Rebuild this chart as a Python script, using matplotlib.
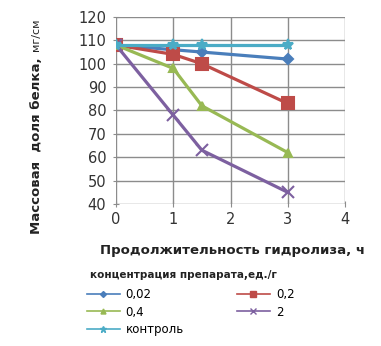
import matplotlib
matplotlib.use("Agg")
import matplotlib.pyplot as plt
from matplotlib.lines import Line2D

plt.rcParams['font.family'] = ['DejaVu Sans']

hours = [0, 1, 1.5, 3]
s_002 = [108, 106, 105, 102]
s_02 = [108, 104, 100, 83]
s_04 = [108, 98, 82, 62]
s_2 = [108, 78, 63, 45]
s_ctrl = [108, 108, 108, 108]
labels = ['0,02', '0,2', '0,4', '2', 'контроль']
colors = ['#4A7EBB', '#BE4B48', '#98B954', '#7D60A0', '#4BACC6']
markers = ['D', 's', '^', 'x', '*']
msizes = [5, 8, 6, 8, 8]
xticks = [0, 1, 2, 3, 4]
yticks = [40, 50, 60, 70, 80, 90, 100, 110, 120]

fig = plt.figure(figsize=(3.81, 3.46), dpi=100)
ax = fig.add_axes([0.3045, 0.4104, 0.601, 0.5405])

series = [s_002, s_02, s_04, s_2, s_ctrl]
order = [3, 2, 1, 0, 4]
for i in order:
    ax.plot(hours, series[i], color=colors[i], marker=markers[i], ms=msizes[i],
            lw=2.3, mew=1.5, zorder=3 + i)

ax.set_xlim(0, 4)
ax.set_ylim(40, 120)
ax.set_xticks(xticks)
ax.set_yticks(yticks)
ax.grid(True, color='#8c8c8c', lw=1.0)
for s in ax.spines.values():
    s.set_visible(False)
ax.tick_params(axis='both', length=4, color='#8c8c8c', labelsize=10.5, pad=5,
               labelcolor='#333333', direction='inout')
ax.tick_params(axis='x', pad=4)
ax.set_axisbelow(True)

fig.text(0.61, 0.277, 'Продолжительность гидролиза, ч', ha='center', va='center',
         fontsize=9.5, fontweight='bold', color='#222222')

# y label: bold part then lighter units, stacked along the vertical
x_lab = 0.095
y_start = 1 - 234 / 346
t1 = fig.text(x_lab, y_start, 'Массовая  доля белка, ', rotation=90,
              rotation_mode='anchor', ha='left', va='center',
              fontsize=9.5, fontweight='bold', color='#222222')
fig.canvas.draw()
bb = t1.get_window_extent(fig.canvas.get_renderer())
y_end = bb.y1 / fig.bbox.height
fig.text(x_lab, y_end + 0.005, 'мг/см', rotation=90, rotation_mode='anchor',
         ha='left', va='center', fontsize=8, color='#222222')

fig.text(0.235, 0.205, 'концентрация препарата,ед./г', ha='left', va='center',
         fontsize=7.5, fontweight='bold', color='#222222')

handles = [Line2D([0], [0], color=colors[i], marker=markers[i], ms=msizes[i] * 0.6,
                  lw=1.2) for i in range(5)]
hl = [handles[0], handles[2], handles[4], handles[1], handles[3]]
ll = [labels[0], labels[2], labels[4], labels[1], labels[3]]
fig.legend(hl, ll, ncol=2, loc='upper left', bbox_to_anchor=(0.215, 0.18),
           frameon=False, fontsize=8.5, handlelength=2.8, columnspacing=4.5,
           labelspacing=0.35, handletextpad=0.5, borderaxespad=0)

fig.savefig('out.png', dpi=100)
